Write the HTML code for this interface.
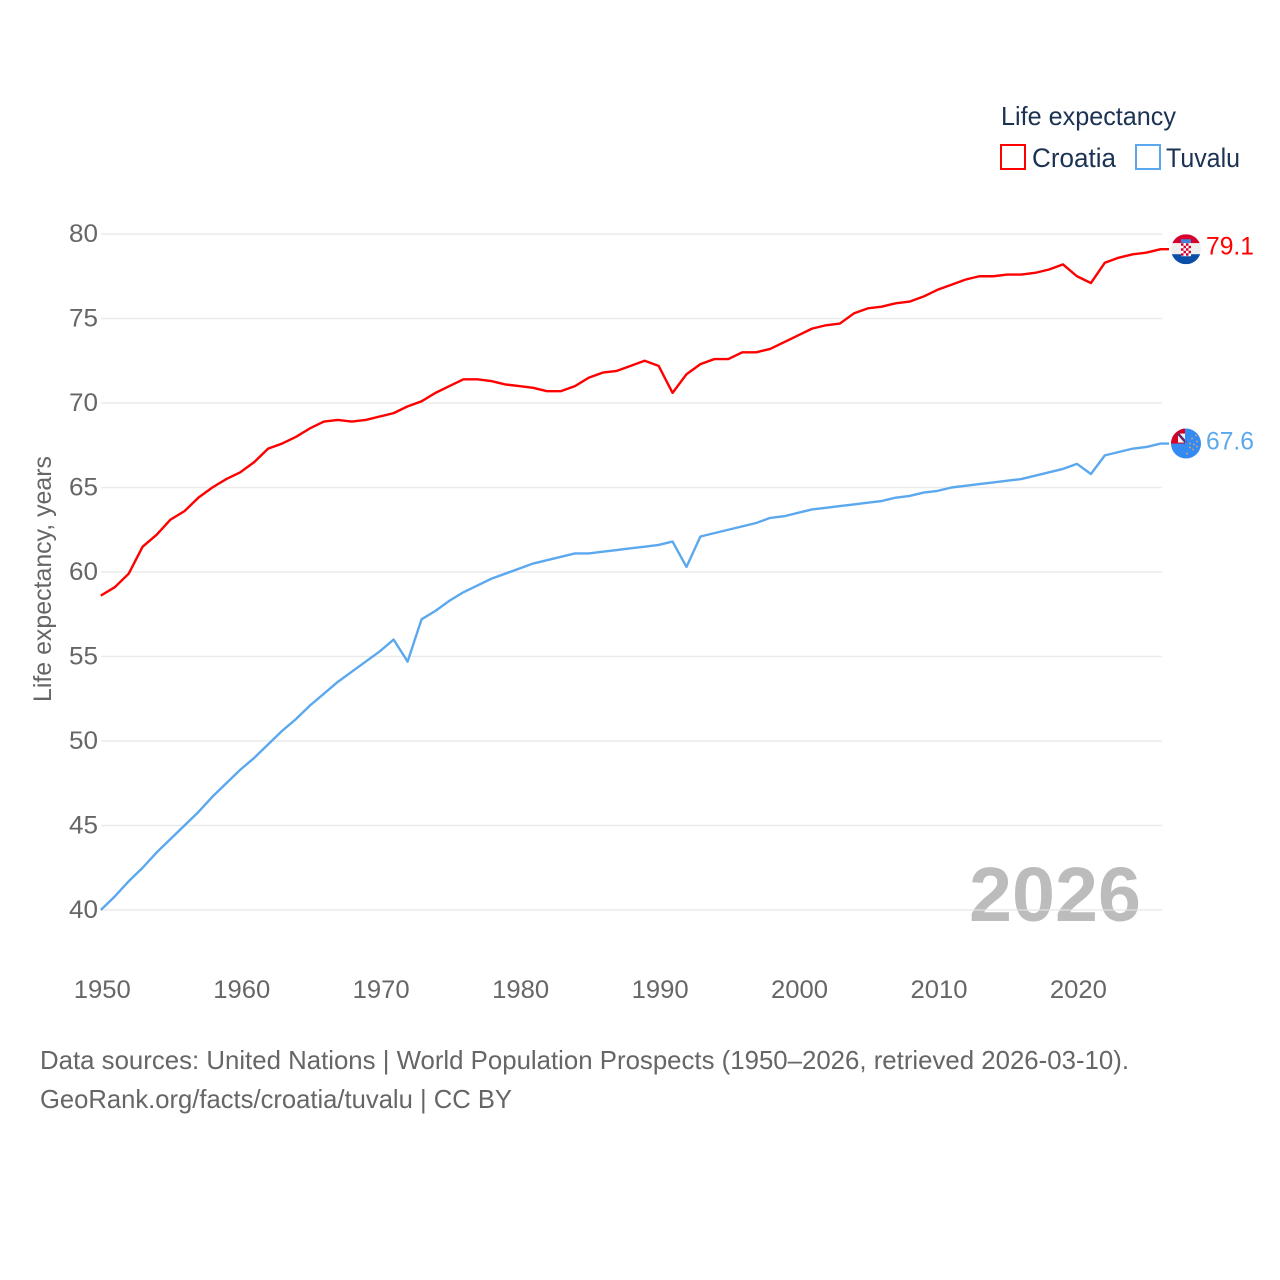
<!DOCTYPE html>
<html lang="en">
<head>
<meta charset="utf-8">
<title>Life expectancy: Croatia and Tuvalu</title>
<style>
html,body{margin:0;padding:0;background:#fff;}
svg{display:block;}
text{font-family:"Liberation Sans",sans-serif;}
</style>
</head>
<body>
<svg id="chart" xmlns="http://www.w3.org/2000/svg" width="1280" height="1280" viewBox="0 0 1280 1280">
  <defs>
    <clipPath id="clip-flag"><circle cx="0" cy="0" r="15"/></clipPath>
  </defs>
  <text x="969" y="921" font-size="77" font-weight="700" fill="#bcbcbc" textLength="172" lengthAdjust="spacingAndGlyphs">2026</text>
  <g id="grid"></g>
  <g id="y-ticks"></g>
  <g id="x-ticks"></g>
  <text transform="translate(51,702) rotate(-90)" font-size="25" fill="#666" textLength="246" lengthAdjust="spacingAndGlyphs">Life expectancy, years</text>
  <g id="series"></g>

  <g>
    <text x="1001" y="125" font-size="26" fill="#1b3252" textLength="175" lengthAdjust="spacingAndGlyphs">Life expectancy</text>
    <rect x="1001" y="145" width="24" height="24" fill="#fff" stroke="#ff0000" stroke-width="2"/>
    <text x="1032" y="167" font-size="27" fill="#1b3252" textLength="84" lengthAdjust="spacingAndGlyphs">Croatia</text>
    <rect x="1136" y="145" width="24" height="24" fill="#fff" stroke="#5ba8ee" stroke-width="2"/>
    <text x="1166" y="167" font-size="27" fill="#1b3252" textLength="74" lengthAdjust="spacingAndGlyphs">Tuvalu</text>
  </g>

  <g id="flag-croatia">
    <g clip-path="url(#clip-flag)">
      <rect x="-15" y="-15" width="30" height="9" fill="#d8002c"/>
      <rect x="-15" y="-6" width="30" height="11" fill="#efefef"/>
      <rect x="-15" y="5" width="30" height="10" fill="#0a4ea8"/>
      <rect x="-5" y="-10" width="10" height="4" fill="#3d85d8"/>
      <rect x="-5" y="-6" width="10" height="13" fill="#fff"/>
      <path d="M-5-6h2.500v2.500h-2.500zM0-6h2.500v2.500h-2.500zM-2.500-3.500h2.500v2.500h-2.500zM2.500-3.500h2.500v2.500h-2.500zM-5-1h2.500v2.500h-2.500zM0-1h2.500v2.500h-2.500zM-2.500 1.500h2.500v2.500h-2.500zM2.500 1.500h2.500v2.500h-2.500zM-5 4h2.500v2.500h-2.500zM0 4h2.500v2.500h-2.500z" fill="#d8002c"/>
    </g>
  </g>
  <g id="flag-tuvalu">
    <g clip-path="url(#clip-flag)">
      <rect x="-15" y="-15" width="30" height="30" fill="#338af3"/>
      <rect x="-15" y="-15" width="15" height="15" fill="#d80027"/>
      <rect x="-8" y="-10" width="8" height="9" fill="#f4f4f4"/>
      <path d="M-8-10L0-1" stroke="#1a3f8f" stroke-width="2.500" fill="none"/>
      <path d="M-8-10L0-1" stroke="#d80027" stroke-width="0.800" fill="none"/>
      <rect x="-1" y="-15" width="1" height="15" fill="#338af3"/>
      <g fill="#e8a35c">
        <circle cx="10" cy="-8" r="0.900"/><circle cx="6" cy="-5" r="0.900"/><circle cx="11" cy="-2" r="0.900"/>
        <circle cx="4" cy="0" r="0.900"/><circle cx="8" cy="1" r="0.900"/><circle cx="11" cy="3" r="0.900"/>
        <circle cx="4" cy="4" r="0.900"/><circle cx="7" cy="6" r="0.900"/><circle cx="1" cy="10" r="0.900"/>
      </g>
    </g>
  </g>
  <text id="value-croatia" x="1206" font-size="25" fill="#ff0000" textLength="48" lengthAdjust="spacingAndGlyphs"></text>
  <text id="value-tuvalu" x="1206" font-size="25" fill="#5ba8ee" textLength="48" lengthAdjust="spacingAndGlyphs"></text>

  <text x="40" y="1069" font-size="26" fill="#666" textLength="1089" lengthAdjust="spacingAndGlyphs">Data sources: United Nations | World Population Prospects (1950–2026, retrieved 2026-03-10).</text>
  <text x="40" y="1108" font-size="26" fill="#666" textLength="472" lengthAdjust="spacingAndGlyphs">GeoRank.org/facts/croatia/tuvalu | CC BY</text>
</svg>
<script>
const startYear = 1950;
const yTickValues = [40, 45, 50, 55, 60, 65, 70, 75, 80];
const xTickValues = [1950, 1960, 1970, 1980, 1990, 2000, 2010, 2020];
const croatiaValues = [
  58.6, 59.1, 59.9, 61.5, 62.2, 63.1, 63.6, 64.4, 65.0, 65.5,
  65.9, 66.5, 67.3, 67.6, 68.0, 68.5, 68.9, 69.0, 68.9, 69.0,
  69.2, 69.4, 69.8, 70.1, 70.6, 71.0, 71.4, 71.4, 71.3, 71.1,
  71.0, 70.9, 70.7, 70.7, 71.0, 71.5, 71.8, 71.9, 72.2, 72.5,
  72.2, 70.6, 71.7, 72.3, 72.6, 72.6, 73.0, 73.0, 73.2, 73.6,
  74.0, 74.4, 74.6, 74.7, 75.3, 75.6, 75.7, 75.9, 76.0, 76.3,
  76.7, 77.0, 77.3, 77.5, 77.5, 77.6, 77.6, 77.7, 77.9, 78.2,
  77.5, 77.1, 78.3, 78.6, 78.8, 78.9, 79.1
];
const tuvaluValues = [
  40.0, 40.8, 41.7, 42.5, 43.4, 44.2, 45.0, 45.8, 46.7, 47.5,
  48.3, 49.0, 49.8, 50.6, 51.3, 52.1, 52.8, 53.5, 54.1, 54.7,
  55.3, 56.0, 54.7, 57.2, 57.7, 58.3, 58.8, 59.2, 59.6, 59.9,
  60.2, 60.5, 60.7, 60.9, 61.1, 61.1, 61.2, 61.3, 61.4, 61.5,
  61.6, 61.8, 60.3, 62.1, 62.3, 62.5, 62.7, 62.9, 63.2, 63.3,
  63.5, 63.7, 63.8, 63.9, 64.0, 64.1, 64.2, 64.4, 64.5, 64.7,
  64.8, 65.0, 65.1, 65.2, 65.3, 65.4, 65.5, 65.7, 65.9, 66.1,
  66.4, 65.8, 66.9, 67.1, 67.3, 67.4, 67.6
];

const NS = 'http://www.w3.org/2000/svg';
const xScale = function (year) { return 100.8 + (year - 1950) * 13.945; };
const yScale = function (value) { return 910 - (value - 40) * (910 - 234) / 40; };
const GRID_LEFT = 101;
const GRID_RIGHT = 1162;
const CONNECTOR_END = 1169;

const gridGroup = document.getElementById('grid');
const yTickGroup = document.getElementById('y-ticks');
yTickValues.forEach(function (v) {
  const line = document.createElementNS(NS, 'line');
  
  
  line.setAttribute('x1', GRID_LEFT);
  line.setAttribute('x2', GRID_RIGHT);
  line.setAttribute('y1', yScale(v));
  line.setAttribute('y2', yScale(v));
  line.setAttribute('stroke', '#e4e4e4');
  line.setAttribute('stroke-opacity', '0.75');
  line.setAttribute('stroke-width', '1.5');
  gridGroup.appendChild(line);

  const label = document.createElementNS(NS, 'text');
  
  
  label.setAttribute('x', 69);
  label.setAttribute('y', yScale(v) + 8);
  label.setAttribute('font-size', '25');
  label.setAttribute('fill', '#666');
  label.setAttribute('textLength', '29');
  label.setAttribute('lengthAdjust', 'spacingAndGlyphs');
  label.textContent = String(v);
  yTickGroup.appendChild(label);
});

const xTickGroup = document.getElementById('x-ticks');
xTickValues.forEach(function (year) {
  const label = document.createElementNS(NS, 'text');
  
  
  label.setAttribute('x', xScale(year) - 27);
  label.setAttribute('y', 998);
  label.setAttribute('font-size', '25');
  label.setAttribute('fill', '#666');
  label.setAttribute('textLength', '57');
  label.setAttribute('lengthAdjust', 'spacingAndGlyphs');
  label.textContent = String(year);
  xTickGroup.appendChild(label);
});

function linePoints(values) {
  const pts = values.map(function (v, i) {
    return xScale(startYear + i).toFixed(2) + ',' + yScale(v).toFixed(2);
  });
  pts.push(CONNECTOR_END + ',' + yScale(values[values.length - 1]).toFixed(2));
  return pts.join(' ');
}

const seriesGroup = document.getElementById('series');

const croatiaLine = document.createElementNS(NS, 'polyline');


croatiaLine.setAttribute('points', linePoints(croatiaValues));
croatiaLine.setAttribute('fill', 'none');
croatiaLine.setAttribute('stroke', '#ff0000');
croatiaLine.setAttribute('stroke-width', '2.4');
croatiaLine.setAttribute('stroke-linejoin', 'round');
seriesGroup.appendChild(croatiaLine);

const tuvaluLine = document.createElementNS(NS, 'polyline');


tuvaluLine.setAttribute('points', linePoints(tuvaluValues));
tuvaluLine.setAttribute('fill', 'none');
tuvaluLine.setAttribute('stroke', '#5ba8ee');
tuvaluLine.setAttribute('stroke-width', '2.4');
tuvaluLine.setAttribute('stroke-linejoin', 'round');
seriesGroup.appendChild(tuvaluLine);

const lastCroatia = croatiaValues[croatiaValues.length - 1];
const lastTuvalu = tuvaluValues[tuvaluValues.length - 1];
document.getElementById('flag-croatia').setAttribute('transform', 'translate(1186,' + yScale(lastCroatia) + ')');
document.getElementById('flag-tuvalu').setAttribute('transform', 'translate(1186,' + yScale(lastTuvalu) + ')');
const valueCroatia = document.getElementById('value-croatia');
valueCroatia.setAttribute('y', yScale(lastCroatia) + 5.5);
valueCroatia.textContent = lastCroatia.toFixed(1);
const valueTuvalu = document.getElementById('value-tuvalu');
valueTuvalu.setAttribute('y', yScale(lastTuvalu) + 6);
valueTuvalu.textContent = lastTuvalu.toFixed(1);
</script>
</body>
</html>
